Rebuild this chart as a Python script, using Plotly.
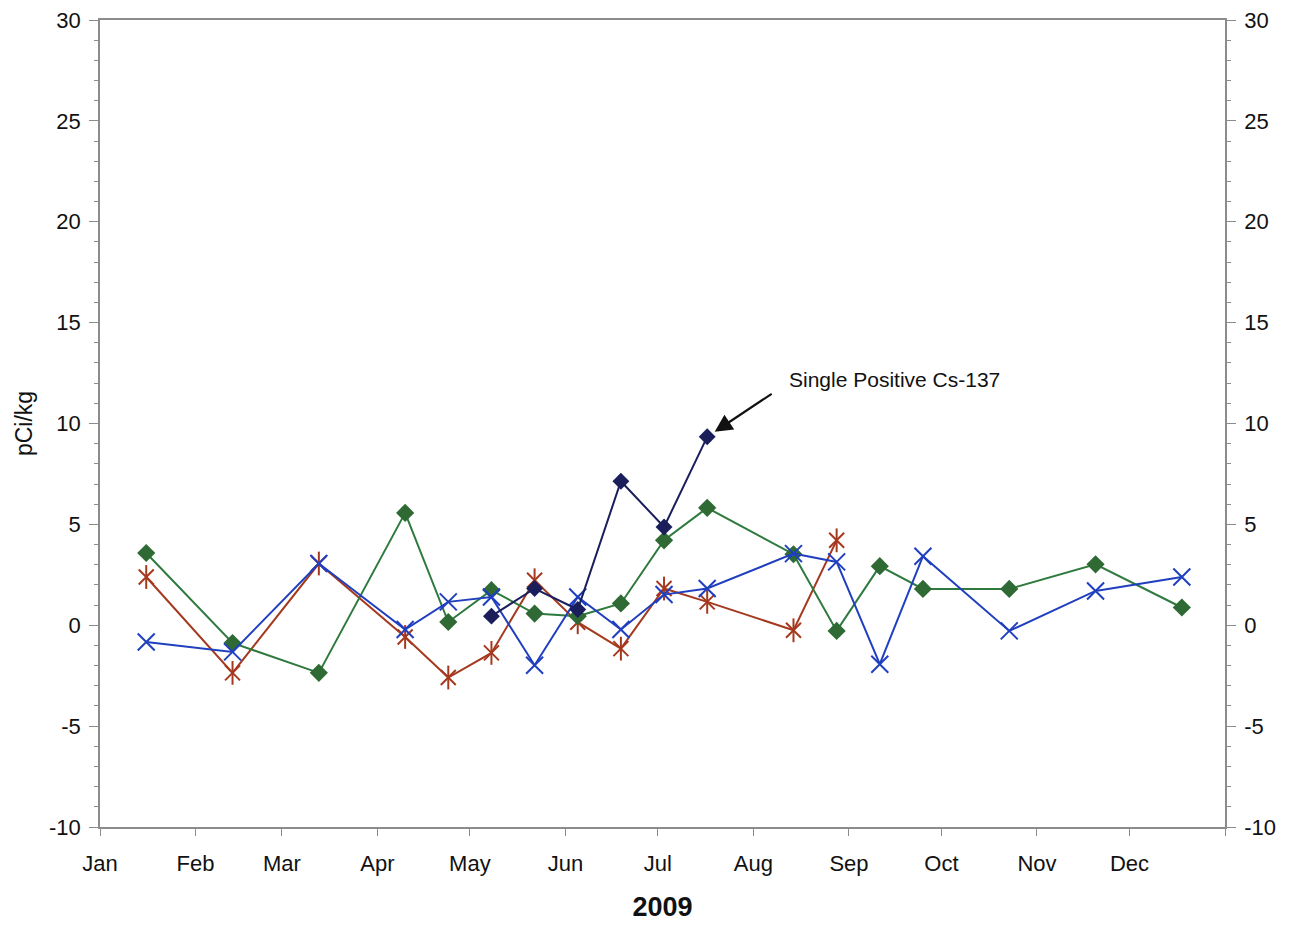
import plotly.graph_objects as go

# Sampling dates (biweekly composites), 2009
dates = ["2009-01-16", "2009-02-13", "2009-03-13", "2009-04-10", "2009-04-24",
         "2009-05-08", "2009-05-22", "2009-06-05", "2009-06-19", "2009-07-03",
         "2009-07-17", "2009-08-14", "2009-08-28", "2009-09-11", "2009-09-25",
         "2009-10-23", "2009-11-20", "2009-12-18"]

# Green diamonds (all sampling dates)
green_vals = [3.58, -0.88, -2.36, 5.57, 0.16, 1.74, 0.58, 0.45, 1.08, 4.21,
              5.82, 3.52, -0.28, 2.93, 1.80, 1.80, 3.02, 0.88]

# Red stars (Jan through late Aug)
red_dates = dates[:13]
red_vals = [2.39, -2.36, 3.06, -0.58, -2.59, -1.37, 2.23, 0.15, -1.16, 1.82,
            1.16, -0.25, 4.21]

# Blue crosses (all sampling dates)
blue_vals = [-0.83, -1.32, 3.06, -0.21, 1.16, 1.40, -1.98, 1.40, -0.21, 1.52,
             1.82, 3.55, 3.14, -1.93, 3.42, -0.28, 1.70, 2.39]

# Navy diamonds (May through mid Jul)
navy_dates = dates[5:11]
navy_vals = [0.45, 1.82, 0.78, 7.14, 4.87, 9.34]

month_ticks = ["2009-%02d-01" % m for m in range(1, 13)] + ["2010-01-01"]
month_labels = ["Jan", "Feb", "Mar", "Apr", "May", "Jun", "Jul", "Aug",
                "Sep", "Oct", "Nov", "Dec", ""]
y_ticks = [-10, -5, 0, 5, 10, 15, 20, 25, 30]
y_labels = [str(v) for v in y_ticks]

GREEN = "#2f6a35"
GREEN_LINE = "#2e7a3e"
RED = "#a5391f"
BLUE = "#1f3fbf"
NAVY = "#1a1f5c"
AXIS = "#8c8c8c"
INK = "#111111"
FONT = "Liberation Sans, Arial, sans-serif"

fig = go.Figure()

fig.add_trace(go.Scatter(
    x=red_dates, y=red_vals, mode="lines+markers",
    line=dict(color=RED, width=2),
    marker=dict(symbol="x-thin-open", size=15, color=RED,
                line=dict(color=RED, width=2)),
    showlegend=False))
# vertical stroke completes the six-armed star marker
fig.add_trace(go.Scatter(
    x=red_dates, y=red_vals, mode="markers",
    marker=dict(symbol="line-ns-open", size=17, color=RED,
                line=dict(color=RED, width=2)),
    showlegend=False, hoverinfo="skip"))

fig.add_trace(go.Scatter(
    x=dates, y=green_vals, mode="lines+markers",
    line=dict(color=GREEN_LINE, width=2),
    marker=dict(symbol="diamond", size=14, color=GREEN),
    showlegend=False))

fig.add_trace(go.Scatter(
    x=dates, y=blue_vals, mode="lines+markers",
    line=dict(color=BLUE, width=2),
    marker=dict(symbol="x-thin-open", size=17, color=BLUE,
                line=dict(color=BLUE, width=2)),
    showlegend=False))

fig.add_trace(go.Scatter(
    x=navy_dates, y=navy_vals, mode="lines+markers",
    line=dict(color=NAVY, width=2),
    marker=dict(symbol="diamond", size=13, color=NAVY),
    showlegend=False))

# Right-hand mirror axis carrier
fig.add_trace(go.Scatter(
    x=[dates[0]], y=[green_vals[0]], yaxis="y2", mode="markers",
    marker=dict(size=1, opacity=0), showlegend=False, hoverinfo="skip"))

fig.add_annotation(
    x=navy_dates[-1], y=navy_vals[-1], xref="x", yref="y",
    text="", showarrow=True, ax=66, ay=-44,
    arrowhead=2, arrowsize=1.6, arrowwidth=2.2, arrowcolor=INK,
    standoff=9)
fig.add_annotation(
    x=navy_dates[-1], y=navy_vals[-1], xref="x", yref="y",
    text="Single Positive Cs-137", showarrow=False,
    xshift=80, yshift=57, xanchor="left", yanchor="middle",
    font=dict(family=FONT, size=21, color=INK))

yaxis_common = dict(
    range=[-10, 30], tickvals=y_ticks, ticktext=y_labels,
    ticks="outside", ticklen=9, ticklabelstandoff=4, automargin=False,
    tickcolor=AXIS, tickwidth=1, showline=True, linecolor=AXIS, linewidth=1.5,
    showgrid=False, zeroline=False,
    tickfont=dict(family=FONT, size=22, color=INK),
    minor=dict(dtick=1, ticks="outside", ticklen=4, tickcolor=AXIS),
)

fig.update_layout(
    width=1291, height=925,
    margin=dict(l=100, r=66, t=20, b=98),
    paper_bgcolor="white", plot_bgcolor="white",
    font=dict(family=FONT, color=INK),
    xaxis=dict(
        type="date", range=["2009-01-01", "2010-01-01"],
        tickvals=month_ticks, ticktext=month_labels, automargin=False,
        ticks="outside", ticklen=7, tickcolor=AXIS, ticklabelstandoff=9,
        showline=True, linecolor=AXIS, linewidth=1.5, mirror=True,
        showgrid=False, zeroline=False,
        tickfont=dict(family=FONT, size=22, color=INK),
        title=dict(text="<b>2009</b>", standoff=22,
                   font=dict(family=FONT, size=27, color=INK)),
    ),
    yaxis=dict(
        **yaxis_common,
        title=dict(text="pCi/kg", standoff=10,
                   font=dict(family=FONT, size=23, color=INK)),
    ),
    yaxis2=dict(**yaxis_common, overlaying="y", side="right"),
)

fig.write_html("out.html")
